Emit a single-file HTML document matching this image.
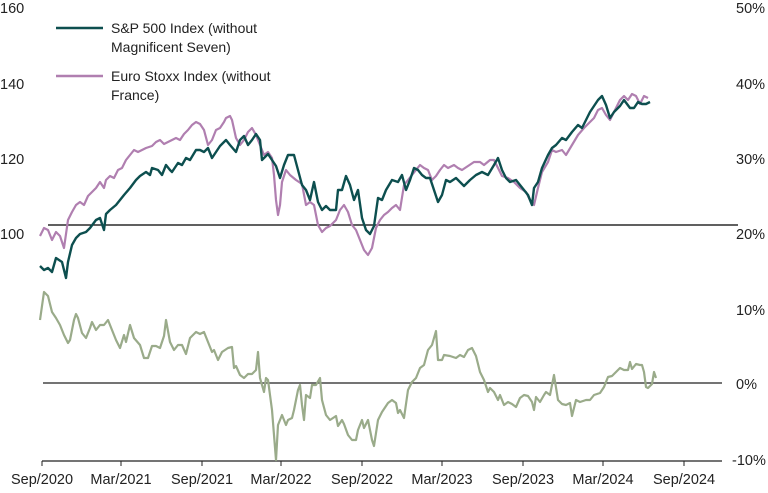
<!DOCTYPE html>
<html><head><meta charset="utf-8"><style>
body{margin:0;background:#fff;}
svg{display:block;font-family:"Liberation Sans",sans-serif;}
text{fill:#222;font-size:14.5px;}
.lg{font-size:14px;}
</style></head><body>
<svg width="768" height="493" viewBox="0 0 768 493">
<g text-anchor="start">
<text x="0" y="13">160</text><text x="0" y="89">140</text><text x="0" y="164">120</text><text x="0" y="239">100</text>
<text x="736" y="13">50%</text><text x="736" y="89">40%</text><text x="736" y="164">30%</text><text x="736" y="239">20%</text>
<text x="736" y="315">10%</text><text x="736" y="389">0%</text><text x="732" y="465">-10%</text>
</g>
<line x1="48" y1="225" x2="738" y2="225" stroke="#000" stroke-width="1.3"/>
<line x1="43" y1="383" x2="722" y2="383" stroke="#222" stroke-width="1.3"/>
<line x1="42" y1="461" x2="722" y2="461" stroke="#222" stroke-width="1.3"/>
<g stroke="#222" stroke-width="1">
<line x1="42" y1="461" x2="42" y2="466"/><line x1="121" y1="461" x2="121" y2="466"/><line x1="202" y1="461" x2="202" y2="466"/><line x1="281" y1="461" x2="281" y2="466"/><line x1="362" y1="461" x2="362" y2="466"/><line x1="442" y1="461" x2="442" y2="466"/><line x1="523" y1="461" x2="523" y2="466"/><line x1="603" y1="461" x2="603" y2="466"/><line x1="684" y1="461" x2="684" y2="466"/>
</g>
<g text-anchor="middle">
<text x="42" y="484">Sep/2020</text><text x="121" y="484">Mar/2021</text><text x="202" y="484">Sep/2021</text><text x="281" y="484">Mar/2022</text><text x="362" y="484">Sep/2022</text><text x="442" y="484">Mar/2023</text><text x="523" y="484">Sep/2023</text><text x="603" y="484">Mar/2024</text><text x="684" y="484">Sep/2024</text>
</g>
<polyline fill="none" stroke="#9aab8a" stroke-width="2.2" stroke-linejoin="round" points="40,320 44,292 48,296 52,312 56,318 60,325 64,335 68,343 70,340 74,320 76,314 78,318 82,333 86,338 90,328 92,322 96,330 100,325 104,325 108,320 112,330 116,340 120,348 124,335 126,342 130,325 134,338 140,345 144,358 148,358 152,346 156,346 160,348 164,336 166,320 170,342 174,350 178,345 182,345 186,354 190,338 196,332 200,334 204,332 208,342 212,352 214,350 218,360 222,352 228,348 232,347 234,368 236,366 240,375 244,378 248,374 252,374 256,370 258,352 260,378 264,392 266,378 268,380 272,410 276,460 278,425 282,415 284,420 286,425 288,420 292,418 294,410 298,390 300,385 302,405 304,420 306,395 310,398 312,385 316,385 320,378 322,400 326,415 330,420 336,416 338,426 342,420 344,424 348,435 352,440 356,440 358,430 362,420 364,428 368,420 372,440 374,446 378,420 382,412 388,403 392,400 396,403 398,413 400,410 404,418 408,390 412,382 416,378 420,368 424,365 428,350 432,345 436,331 438,360 442,360 444,355 450,356 456,358 460,355 464,357 468,350 472,348 476,356 480,372 484,380 488,392 490,388 494,392 498,400 500,395 504,405 508,402 512,404 516,407 520,398 524,395 528,396 532,402 534,410 536,397 540,402 544,395 546,392 550,395 554,375 558,400 562,404 566,405 570,403 572,416 576,400 580,402 586,400 590,400 594,395 600,393 604,387 608,377 612,376 616,372 620,368 624,370 628,370 630,362 632,369 636,364 640,365 642,365 644,372 646,387 648,388 652,384 654,372 656,378"/>
<polyline fill="none" stroke="#b07fb0" stroke-width="2.2" stroke-linejoin="round" points="40,236 44,228 48,230 52,240 56,232 60,236 64,248 68,220 72,212 76,205 80,202 84,205 88,196 92,192 96,188 100,182 104,188 106,180 110,176 114,178 118,170 122,168 126,160 130,155 134,150 138,152 142,150 146,148 152,146 156,142 160,140 164,144 168,142 172,140 176,138 180,140 184,134 188,130 192,125 196,122 200,124 204,130 208,145 212,140 216,130 220,128 224,122 226,118 230,116 232,120 236,138 240,145 244,140 248,132 252,128 256,135 260,145 264,155 268,152 272,158 274,175 276,200 278,215 280,205 282,182 286,170 290,175 296,180 302,184 306,205 310,202 314,205 318,225 322,232 326,228 330,226 336,220 340,210 344,205 348,212 352,225 356,230 360,240 364,250 368,255 372,248 376,228 380,220 384,215 388,212 392,208 396,205 400,210 404,185 408,180 412,175 416,170 420,165 424,168 428,170 432,180 436,176 440,170 444,165 448,168 454,165 458,168 462,170 468,166 474,162 480,162 484,165 490,160 494,160 498,168 502,176 508,178 514,182 520,188 526,192 530,200 534,205 538,188 542,172 548,162 552,150 556,152 562,150 566,155 572,145 578,135 584,128 590,122 594,118 598,110 602,108 606,115 610,120 614,112 620,100 624,96 628,100 632,94 636,96 640,104 644,96 648,98"/>
<polyline fill="none" stroke="#0d4f4f" stroke-width="2.4" stroke-linejoin="round" points="40,266 44,270 48,268 52,272 56,258 62,262 66,278 68,262 72,245 76,238 80,234 86,232 90,228 96,220 100,218 104,230 106,214 110,210 116,205 120,200 124,195 130,188 136,180 140,176 146,172 150,175 152,168 158,170 162,175 166,165 170,170 172,172 178,163 182,165 186,158 190,160 196,150 200,150 204,152 208,148 212,158 216,152 220,146 226,140 230,145 236,152 240,140 244,136 248,145 252,140 256,134 260,140 262,160 268,154 272,160 276,166 280,178 284,165 288,155 294,155 298,170 302,185 306,190 310,200 314,182 318,202 322,210 326,206 330,210 336,210 338,190 342,190 346,176 350,185 354,200 358,190 362,218 366,230 370,234 374,226 378,198 382,200 386,190 392,180 398,182 402,175 406,190 410,180 414,168 418,170 422,175 426,178 430,178 434,190 438,202 442,195 446,180 450,182 456,178 460,182 464,186 470,180 476,175 482,172 488,175 494,165 498,158 502,170 506,178 510,182 516,180 520,185 524,190 528,195 532,205 534,188 538,182 542,168 548,155 552,148 556,145 562,138 566,140 572,132 578,125 582,128 586,120 590,112 594,106 598,100 602,96 606,105 610,118 614,112 620,106 624,100 630,108 634,108 638,102 642,104 646,104 650,102"/>
<line x1="56" y1="28" x2="103" y2="28" stroke="#0d4f4f" stroke-width="2.6"/>
<line x1="56" y1="76" x2="103" y2="76" stroke="#b07fb0" stroke-width="2.6"/>
<text class="lg" x="111" y="33">S&amp;P 500 Index (without</text>
<text class="lg" x="111" y="52">Magnificent Seven)</text>
<text class="lg" x="111" y="81">Euro Stoxx Index (without</text>
<text class="lg" x="111" y="100">France)</text>
</svg>
</body></html>
